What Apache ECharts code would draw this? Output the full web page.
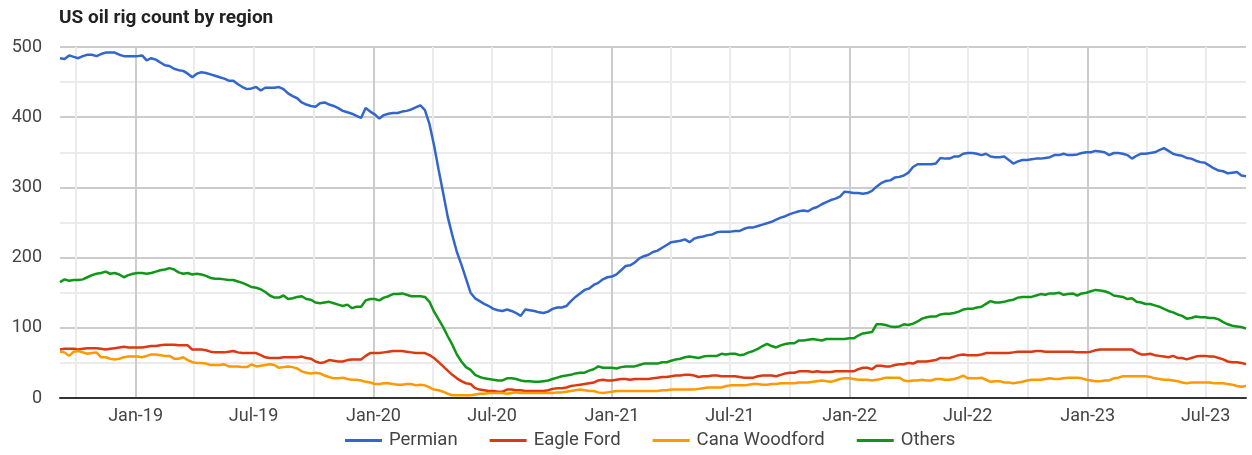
<!DOCTYPE html>
<html>
<head>
<meta charset="utf-8">
<title>US oil rig count by region</title>
<script src="https://cdn.jsdelivr.net/npm/echarts@6/dist/echarts.min.js"></script>
<style>
  html, body { margin: 0; padding: 0; background: #fff; }
  #main { width: 1252px; height: 455px; }
</style>
</head>
<body>
<div id="main"></div>
<script>
// weekly counts, first week ends 2018-09-07, last 2023-09-01
const firstWeek = Date.UTC(2018, 8, 7);
const lastWeek = Date.UTC(2023, 8, 1);
const WEEK = 7 * 24 * 3600 * 1000;

const permian = [
  484,483,488,486,484,487,489,489,487,490,
  492,492,492,489,487,487,487,487,488,481,
  484,482,478,474,473,469,467,466,462,457,
  462,464,463,461,459,457,455,452,452,447,
  443,440,441,443,438,442,442,442,443,440,
  434,430,427,421,418,416,415,420,421,418,
  416,413,409,407,405,402,399,413,408,404,
  398,403,405,406,406,408,409,411,414,417,
  410,390,360,325,292,258,232,208,190,170,
  150,142,138,134,131,127,125,124,126,124,
  121,117,126,125,124,122,121,123,127,129,
  129,131,138,144,149,154,156,161,164,169,
  172,173,176,182,188,189,193,199,202,204,
  208,210,214,218,222,223,224,226,222,227,
  229,230,232,233,236,237,237,237,238,238,
  241,243,243,245,247,249,251,254,257,259,
  262,264,266,267,266,270,272,276,279,282,
  284,287,294,293,292,292,291,292,295,301,
  306,309,310,314,315,317,321,329,333,333,
  333,333,334,342,341,341,344,344,348,349,
  349,348,346,348,344,343,343,344,339,334,
  337,339,339,340,341,341,342,343,346,346,
  348,346,346,347,349,350,350,352,351,350,
  346,349,349,348,346,341,345,348,348,349,
  350,353,356,352,348,346,345,342,341,338,
  336,335,331,327,324,323,320,321,322,317,
  316
];

const eagleFord = [
  69,70,70,70,69,70,71,71,71,70,
  69,70,71,72,73,72,72,72,72,73,
  74,74,75,76,76,76,75,75,75,69,
  69,69,68,66,65,65,65,66,67,65,
  64,64,64,64,61,58,57,57,57,58,
  58,58,58,59,57,56,52,50,51,54,
  53,52,52,54,55,55,55,60,64,64,
  64,65,66,67,67,67,66,65,64,64,
  64,61,57,51,45,39,33,28,24,21,
  20,14,12,11,10,10,9,9,12,12,
  11,11,10,10,10,10,10,11,13,14,
  14,15,17,18,19,20,21,22,25,26,
  25,25,26,27,27,26,27,27,27,27,
  28,29,30,30,31,32,32,33,33,32,
  30,31,31,32,32,31,31,31,31,30,
  29,29,29,31,32,32,32,31,33,35,
  36,36,38,38,38,37,38,37,37,37,
  38,38,38,38,38,41,43,43,41,46,
  46,45,45,47,48,48,50,49,52,52,
  52,53,54,57,57,57,59,61,62,61,
  61,61,62,64,64,64,64,64,64,65,
  66,66,66,66,67,67,66,66,66,66,
  66,66,66,65,65,65,66,68,69,69,
  69,69,69,69,69,69,65,62,62,63,
  61,60,59,58,60,57,57,55,57,59,
  60,60,59,59,57,55,52,51,51,50,
  48
];

const canaWoodford = [
  66,65,60,66,67,65,63,64,65,58,
  58,56,55,56,58,59,59,59,58,60,
  62,62,61,60,60,56,56,58,54,51,
  50,50,49,47,47,47,48,45,45,45,
  44,44,48,45,46,47,48,47,43,44,
  45,44,42,38,36,35,36,35,32,30,
  28,28,29,27,26,26,25,23,22,20,
  20,21,21,20,19,19,20,20,18,19,
  18,15,12,11,9,6,4,4,4,4,
  4,5,6,6,7,7,7,7,6,7,
  8,7,7,7,7,7,7,7,7,8,
  8,9,10,11,12,11,10,10,8,7,
  8,9,10,10,10,10,10,10,10,10,
  10,10,11,11,12,12,12,12,12,12,
  13,14,15,15,15,15,17,18,18,18,
  18,19,20,20,19,19,20,20,21,21,
  21,21,22,22,22,23,24,25,24,23,
  25,27,28,28,27,26,26,26,25,26,
  27,29,29,29,29,25,24,25,25,26,
  25,25,27,27,26,26,27,29,32,28,
  28,28,29,26,23,24,24,22,22,21,
  22,23,25,26,26,26,27,28,27,27,
  28,29,29,29,28,26,25,24,24,25,
  25,28,29,31,31,31,31,31,31,30,
  28,27,26,26,25,24,22,21,22,22,
  22,22,22,21,21,21,20,19,17,16,
  17
];

const others = [
  165,169,167,168,168,169,172,175,177,178,
  180,177,178,176,172,175,177,178,178,177,
  178,180,182,183,185,183,179,177,178,176,
  177,176,174,171,170,170,169,168,168,166,
  164,161,158,157,155,151,146,143,143,146,
  141,142,144,145,141,140,136,135,136,137,
  135,133,131,133,128,130,130,139,141,141,
  139,143,145,148,148,149,147,145,145,145,
  144,137,123,112,101,88,76,62,52,44,
  40,33,30,28,27,26,25,25,28,28,
  27,25,24,24,23,23,24,25,27,29,
  31,32,33,35,36,36,39,41,45,43,
  43,43,42,44,45,45,45,47,49,49,
  49,49,51,51,53,55,56,58,59,58,
  57,59,60,60,60,63,62,63,63,61,
  62,65,67,70,74,77,74,72,75,77,
  78,78,82,82,83,84,83,82,84,84,
  84,84,84,85,85,89,92,93,94,105,
  105,104,102,101,102,105,104,106,109,113,
  115,116,116,119,120,120,121,123,126,127,
  127,129,130,134,138,136,136,137,139,140,
  143,144,144,144,146,148,147,149,149,150,
  147,148,149,146,149,150,152,154,153,152,
  150,146,145,144,141,142,137,136,134,134,
  132,130,127,124,122,119,117,113,114,116,
  115,115,114,114,112,108,105,103,102,101,
  99
];

const seriesNames = ['Permian', 'Eagle Ford', 'Cana Woodford', 'Others'];
const seriesColors = ['#3366cc', '#dc3912', '#ff9900', '#109618'];

// tick labels (Jan / Jul), light quarter lines, dark year lines
const labelMonths = ['2019-01', '2019-07', '2020-01', '2020-07', '2021-01', '2021-07', '2022-01', '2022-07', '2023-01', '2023-07'];
const quarterMonths = ['2018-10', '2019-04', '2019-07', '2019-10', '2020-04', '2020-07', '2020-10', '2021-04', '2021-07', '2021-10',
  '2022-04', '2022-07', '2022-10', '2023-04', '2023-07'];
const yearMonths = ['2019-01', '2020-01', '2021-01', '2022-01', '2023-01'];

const MONTHS = ['Jan', 'Feb', 'Mar', 'Apr', 'May', 'Jun', 'Jul', 'Aug', 'Sep', 'Oct', 'Nov', 'Dec'];
const toTime = (s) => {
  const [y, m] = s.split('-').map(Number);
  return Date.UTC(y, m - 1, 1);
};
const weeks = permian.map((_, i) => firstWeek + i * WEEK);
const allSeries = [permian, eagleFord, canaWoodford, others];

const chart = echarts.init(document.getElementById('main'), null, { renderer: 'canvas' });

chart.setOption({
  animation: false,
  textStyle: { fontFamily: 'Roboto' },
  title: {
    text: 'US oil rig count by region',
    left: 59,
    top: 9,
    padding: 0,
    textStyle: { fontFamily: 'Roboto', fontSize: 19, fontWeight: 'bold', color: '#222' }
  },
  legend: {
    data: seriesNames,
    left: 345,
    top: 431,
    padding: 0,
    itemWidth: 37,
    itemHeight: 18,
    itemGap: 32,
    icon: 'path://M0,0 L37,0 L37,3 L0,3 Z',
    textStyle: { fontFamily: 'Roboto', fontSize: 18.5, color: '#444', padding: [0, 0, 0, 2] }
  },
  grid: { left: 60, right: 6, top: 47, bottom: 57 },
  xAxis: [
    {
      type: 'value',
      min: firstWeek,
      max: lastWeek,
      axisLine: { onZero: false, lineStyle: { color: '#333', width: 2 } },
      axisTick: { show: false, customValues: quarterMonths.map(toTime) },
      axisLabel: {
        customValues: labelMonths.map(toTime),
        margin: 9,
        fontFamily: 'Roboto',
        fontSize: 18,
        color: '#444',
        formatter: (v) => {
          const d = new Date(v);
          return MONTHS[d.getUTCMonth()] + '-' + String(d.getUTCFullYear()).slice(2);
        }
      },
      splitLine: { show: true, lineStyle: { color: '#ebebeb', width: 2 } }
    },
    {
      type: 'value',
      position: 'top',
      min: firstWeek,
      max: lastWeek,
      axisLine: { show: false },
      axisTick: { show: false, customValues: yearMonths.map(toTime) },
      axisLabel: { show: false },
      splitLine: { show: true, lineStyle: { color: '#cccccc', width: 2 } }
    }
  ],
  yAxis: {
    type: 'value',
    min: 0,
    max: 500,
    interval: 100,
    axisLine: { show: false },
    axisTick: { show: false },
    axisLabel: { margin: 18, fontFamily: 'Roboto', fontSize: 18, color: '#444' },
    splitLine: { lineStyle: { color: '#cccccc', width: 2 } },
    minorTick: { show: false, splitNumber: 2 },
    minorSplitLine: { show: true, lineStyle: { color: '#ebebeb', width: 2 } }
  },
  series: allSeries.map((vals, k) => ({
    name: seriesNames[k],
    type: 'line',
    symbol: 'none',
    data: weeks.map((t, i) => [t, vals[i]]),
    lineStyle: { width: 2.5, color: seriesColors[k] },
    itemStyle: { color: seriesColors[k] }
  }))
});
</script>
</body>
</html>
